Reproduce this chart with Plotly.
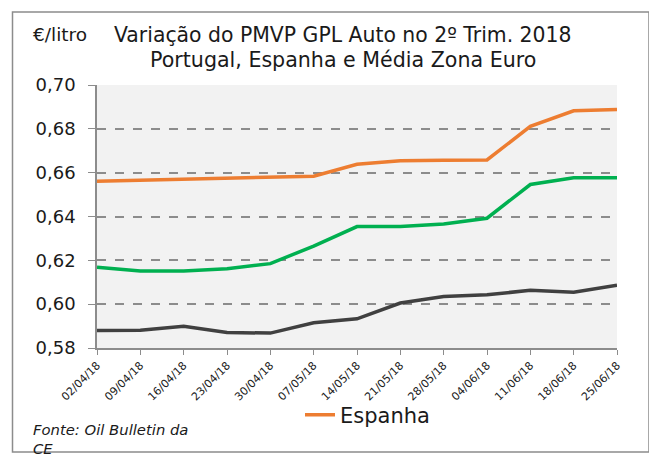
import plotly.graph_objects as go

dates = ["02/04/18", "09/04/18", "16/04/18", "23/04/18", "30/04/18", "07/05/18",
         "14/05/18", "21/05/18", "28/05/18", "04/06/18", "11/06/18", "18/06/18", "25/06/18"]
espanha = [0.6561, 0.6566, 0.6571, 0.6576, 0.6580, 0.6584, 0.6638, 0.6654, 0.6657,
           0.6658, 0.6811, 0.6882, 0.6888]
zona_euro = [0.6169, 0.6151, 0.6151, 0.6162, 0.6185, 0.6265, 0.6354, 0.6354, 0.6366,
             0.6392, 0.6546, 0.6577, 0.6577]
portugal = [0.5880, 0.5881, 0.5899, 0.5871, 0.5868, 0.5915, 0.5933, 0.6005, 0.6035,
            0.6043, 0.6063, 0.6054, 0.6086]
y_ticks = [0.58, 0.60, 0.62, 0.64, 0.66, 0.68, 0.70]

OFF = 8  # page body margin
W, H = 657 - OFF, 460 - OFF
L, R, T, B = 97 - OFF, 617 - OFF, 85 - OFF, 348 - OFF

def px(x):
    return (x - OFF - L) / (R - L)

def py(y):
    return (B - (y - OFF)) / (B - T)

xs = list(range(len(dates)))
fig = go.Figure()
fig.add_trace(go.Scatter(x=xs, y=portugal, mode="lines", name="Portugal",
                         line=dict(color="#404040", width=3.5), showlegend=False))
fig.add_trace(go.Scatter(x=xs, y=zona_euro, mode="lines", name="Média Zona Euro",
                         line=dict(color="#00B050", width=3.5), showlegend=False))
fig.add_trace(go.Scatter(x=xs, y=espanha, mode="lines", name="Espanha",
                         line=dict(color="#ED7D31", width=3.5), showlegend=True))

font = "DejaVu Sans, sans-serif"
txt = "#1a1a1a"
fig.update_layout(
    width=W, height=H,
    margin=dict(l=L, r=W - R, t=T, b=H - B),
    paper_bgcolor="white", plot_bgcolor="#F2F2F2",
    separators=", ",
    font=dict(family=font, color=txt),
    xaxis=dict(range=[0, len(dates) - 1], tickvals=xs, ticktext=dates, tickangle=-45,
               showgrid=False, zeroline=False, showline=True, linecolor="#8C8C8C",
               linewidth=1.5, ticks="outside", ticklen=5, tickcolor="#8C8C8C",
               tickfont=dict(size=11, color=txt)),
    yaxis=dict(range=[0.58, 0.70], tickvals=y_ticks, tickformat=".2f",
               showgrid=True, gridcolor="#8C8C8C", griddash="dash", gridwidth=1.5,
               zeroline=False, showline=True, linecolor="#8C8C8C", linewidth=1.5,
               ticks="outside", ticklen=7, tickcolor="#8C8C8C", ticklabelstandoff=9,
               tickfont=dict(size=18, color=txt)),
    legend=dict(x=px(300), y=py(415), xanchor="left", yanchor="middle",
                orientation="h", font=dict(size=21, color=txt),
                bgcolor="rgba(0,0,0,0)"),
    shapes=[dict(type="rect", xref="paper", yref="paper",
                 x0=px(12.5), x1=px(649), y0=py(452), y1=py(12),
                 line=dict(color="#8C8C8C", width=1.5), layer="below")],
    annotations=[
        dict(text="€/litro",
             xref="paper", yref="paper", x=px(31), y=py(35), xanchor="left",
             yanchor="middle", showarrow=False, font=dict(size=18.5, color=txt)),
        dict(text="Variação do PMVP GPL Auto no 2º Trim. 2018",
             xref="paper", yref="paper", x=px(112), y=py(35), xanchor="left",
             yanchor="middle", showarrow=False, font=dict(size=20.4, color=txt)),
        dict(text="Portugal, Espanha e Média Zona Euro",
             xref="paper", yref="paper", x=px(343), y=py(60), xanchor="center",
             yanchor="middle", showarrow=False, font=dict(size=20.6, color=txt)),
        dict(text="<i>Fonte: Oil Bulletin da<br>CE</i>", align="left",
             xref="paper", yref="paper", x=px(31), y=py(419), xanchor="left",
             yanchor="top", showarrow=False, font=dict(size=14.8, color=txt)),
    ],
)

fig.write_html("out.html")
